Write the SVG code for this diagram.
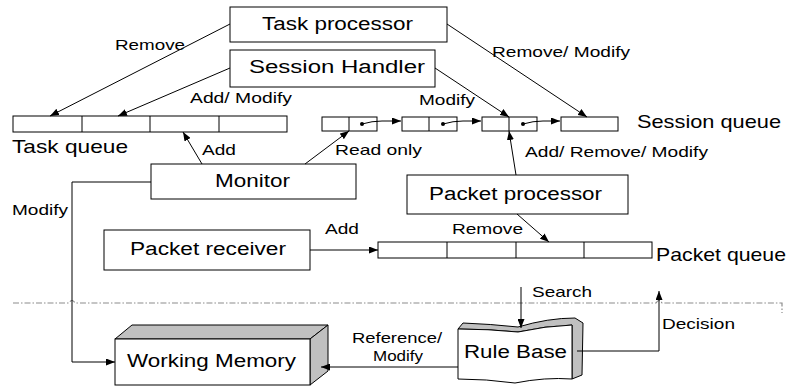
<svg xmlns="http://www.w3.org/2000/svg" width="794" height="387" viewBox="0 0 794 387">
  <style>
    .box { fill: #ffffff; stroke: #000000; stroke-width: 1; }
    .side { fill: #c0c0c0; stroke: #000000; stroke-width: 1; stroke-linejoin: round; }
    .cell { fill: #ffffff; stroke: #000000; stroke-width: 1; }
    .wire { fill: none; stroke: #000000; stroke-width: 1; }
    .sep { fill: none; stroke: #8c8c8c; stroke-width: 1.2; stroke-dasharray: 6 2 1.5 2; }
    text { font-family: "Liberation Sans", Arial, sans-serif; fill: #000000; }
    .node-label { font-size: 18px; }
    .queue-label { font-size: 19px; }
    .edge-label { font-size: 15px; }
  </style>
  <defs>
    <marker id="arrow" markerUnits="userSpaceOnUse" markerWidth="9" markerHeight="7" refX="9" refY="3.5" orient="auto">
      <path d="M0,0 L9,3.5 L0,7 z" fill="#000000"/>
    </marker>
  </defs>

  <rect width="794" height="387" fill="#ffffff"/>

  <!-- processing components -->
  <g id="task-processor">
    <rect class="box" x="230" y="7" width="217" height="35"/>
    <text class="node-label" x="262" y="30" textLength="151" lengthAdjust="spacingAndGlyphs">Task processor</text>
  </g>
  <g id="session-handler">
    <rect class="box" x="230" y="50" width="205" height="37"/>
    <text class="node-label" x="249" y="73" textLength="176" lengthAdjust="spacingAndGlyphs">Session Handler</text>
  </g>
  <g id="monitor">
    <rect class="box" x="151" y="164" width="205" height="35"/>
    <text class="node-label" x="215" y="187" textLength="75" lengthAdjust="spacingAndGlyphs">Monitor</text>
  </g>
  <g id="packet-processor">
    <rect class="box" x="407" y="175" width="221" height="39"/>
    <text class="node-label" x="429" y="200" textLength="173" lengthAdjust="spacingAndGlyphs">Packet processor</text>
  </g>
  <g id="packet-receiver">
    <rect class="box" x="104" y="230" width="206" height="40"/>
    <text class="node-label" x="130" y="255" textLength="156" lengthAdjust="spacingAndGlyphs">Packet receiver</text>
  </g>

  <!-- queues -->
  <g id="task-queue">
    <rect class="cell" x="13" y="116" width="274" height="16"/>
    <line class="wire" x1="82" y1="116" x2="82" y2="132"/>
    <line class="wire" x1="150" y1="116" x2="150" y2="132"/>
    <line class="wire" x1="219" y1="116" x2="219" y2="132"/>
    <text class="queue-label" x="12" y="153" textLength="116" lengthAdjust="spacingAndGlyphs">Task queue</text>
  </g>
  <g id="session-queue">
    <rect class="cell" x="322" y="117" width="55" height="14"/>
    <line class="wire" x1="349" y1="117" x2="349" y2="131"/>
    <rect class="cell" x="402" y="117" width="55" height="14"/>
    <line class="wire" x1="429" y1="117" x2="429" y2="131"/>
    <rect class="cell" x="482" y="117" width="55" height="14"/>
    <line class="wire" x1="509" y1="117" x2="509" y2="131"/>
    <rect class="cell" x="561" y="117" width="57" height="14"/>
    <text class="queue-label" x="637" y="128" textLength="144" lengthAdjust="spacingAndGlyphs">Session queue</text>
  </g>
  <g id="packet-queue">
    <rect class="cell" x="378" y="242" width="274" height="16"/>
    <line class="wire" x1="447" y1="242" x2="447" y2="258"/>
    <line class="wire" x1="516" y1="242" x2="516" y2="258"/>
    <line class="wire" x1="584" y1="242" x2="584" y2="258"/>
    <text class="queue-label" x="656" y="261" textLength="130" lengthAdjust="spacingAndGlyphs">Packet queue</text>
  </g>

  <!-- knowledge stores -->
  <g id="working-memory">
    <polygon class="side" points="115,339 132,325 328,325 310,339"/>
    <polygon class="side" points="310,339 328,325 328,371 310,385"/>
    <rect class="box" x="115" y="339" width="195" height="46"/>
    <text class="node-label" x="127" y="367" textLength="169" lengthAdjust="spacingAndGlyphs">Working Memory</text>
  </g>
  <g id="rule-base">
    <path class="side" d="M458,329 L463,323 Q490,324 518,327 Q548,318 575,318 L583,323 L582,375 L572,379 L572,325 Q545,326 518,332 Q488,329 458,329 z"/>
    <path class="box" d="M458,329 Q488,329 518,332 Q545,326 572,325 L572,379 Q545,377 515,383 Q486,379 458,379 z"/>
    <text class="node-label" x="464" y="358" textLength="103" lengthAdjust="spacingAndGlyphs">Rule Base</text>
  </g>

  <!-- boundary between packet handling and inference -->
  <path class="sep" d="M13,303 H69 q3,-5 6,0 H656 q3,-5 6,0 H782 V313"/>

  <!-- connectors -->
  <g id="connectors">
    <line class="wire" x1="230" y1="24" x2="50" y2="116" marker-end="url(#arrow)"/>
    <line class="wire" x1="230" y1="68" x2="118" y2="116" marker-end="url(#arrow)"/>
    <line class="wire" x1="447" y1="24" x2="587" y2="117" marker-end="url(#arrow)"/>
    <line class="wire" x1="435" y1="68" x2="509" y2="117" marker-end="url(#arrow)"/>
    <line class="wire" x1="202" y1="164" x2="183" y2="132" marker-end="url(#arrow)"/>
    <line class="wire" x1="305" y1="164" x2="349" y2="131" marker-end="url(#arrow)"/>
    <line class="wire" x1="516" y1="175" x2="509" y2="131" marker-end="url(#arrow)"/>
    <line class="wire" x1="517" y1="214" x2="549" y2="242" marker-end="url(#arrow)"/>
    <line class="wire" x1="310" y1="250" x2="378" y2="250" marker-end="url(#arrow)"/>
    <polyline class="wire" points="151,182 72,182 72,362 115,362" marker-end="url(#arrow)"/>
    <line class="wire" x1="458" y1="367" x2="321" y2="367" marker-end="url(#arrow)"/>
    <line class="wire" x1="521" y1="287" x2="521" y2="328" marker-end="url(#arrow)"/>
    <polyline class="wire" points="577,351 659,351 659,291" marker-end="url(#arrow)"/>

    <!-- session queue links -->
    <circle cx="362" cy="124" r="2" fill="#000000"/>
    <path class="wire" d="M362,124 Q372,121 382,121 L401,121" marker-end="url(#arrow)"/>
    <circle cx="443" cy="124" r="2" fill="#000000"/>
    <path class="wire" d="M443,124 Q453,121 463,121 L481,121" marker-end="url(#arrow)"/>
    <circle cx="523" cy="124" r="2" fill="#000000"/>
    <path class="wire" d="M523,124 Q533,121 543,121 L560,121" marker-end="url(#arrow)"/>

    <!-- connector labels -->
    <text class="edge-label" x="115" y="50" textLength="70" lengthAdjust="spacingAndGlyphs">Remove</text>
    <text class="edge-label" x="190" y="103" textLength="102" lengthAdjust="spacingAndGlyphs">Add/ Modify</text>
    <text class="edge-label" x="202" y="155" textLength="34" lengthAdjust="spacingAndGlyphs">Add</text>
    <text class="edge-label" x="335" y="155" textLength="87" lengthAdjust="spacingAndGlyphs">Read only</text>
    <text class="edge-label" x="419" y="105" textLength="56" lengthAdjust="spacingAndGlyphs">Modify</text>
    <text class="edge-label" x="492" y="57" textLength="138" lengthAdjust="spacingAndGlyphs">Remove/ Modify</text>
    <text class="edge-label" x="525" y="157" textLength="183" lengthAdjust="spacingAndGlyphs">Add/ Remove/ Modify</text>
    <text class="edge-label" x="12" y="215" textLength="56" lengthAdjust="spacingAndGlyphs">Modify</text>
    <text class="edge-label" x="325" y="234" textLength="34" lengthAdjust="spacingAndGlyphs">Add</text>
    <text class="edge-label" x="452" y="234" textLength="71" lengthAdjust="spacingAndGlyphs">Remove</text>
    <text class="edge-label" x="532" y="297" textLength="60" lengthAdjust="spacingAndGlyphs">Search</text>
    <text class="edge-label" x="662" y="329" textLength="73" lengthAdjust="spacingAndGlyphs">Decision</text>
    <text class="edge-label" x="352" y="343" textLength="90" lengthAdjust="spacingAndGlyphs">Reference/</text>
    <text class="edge-label" x="373" y="361" textLength="50" lengthAdjust="spacingAndGlyphs">Modify</text>
  </g>
</svg>
